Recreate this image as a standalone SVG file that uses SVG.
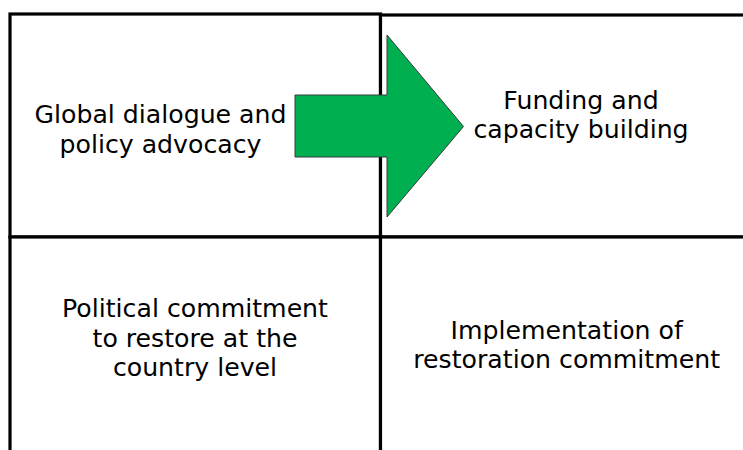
<svg xmlns="http://www.w3.org/2000/svg" width="743" height="450" viewBox="0 0 743 450">
<style>
.box{fill:#ffffff;stroke:#000000;stroke-width:3.2}
.lbl{font-family:"DejaVu Sans","Verdana",sans-serif;font-size:25.2px;fill:#000000;text-anchor:middle}
.arrow{fill:#00b050;stroke:#3a3a3a;stroke-width:1}
</style>
<rect x="0" y="0" width="743" height="450" fill="#ffffff"/>
<g id="node-global">
<rect class="box" x="10" y="14" width="370.5" height="223"/>
<text class="lbl" x="160.5" y="123.3">Global dialogue and</text>
<text class="lbl" x="160.5" y="153">policy advocacy</text>
</g>
<g id="node-funding">
<rect class="box" x="380.5" y="15" width="380" height="222"/>
<text class="lbl" x="581" y="109.3">Funding and</text>
<text class="lbl" x="581" y="138.3">capacity building</text>
</g>
<g id="node-political">
<rect class="box" x="10" y="237" width="370.5" height="240"/>
<text class="lbl" x="195" y="316.7">Political commitment</text>
<text class="lbl" x="195" y="346.5">to restore at the</text>
<text class="lbl" x="195" y="376">country level</text>
</g>
<g id="node-implementation">
<rect class="box" x="380.5" y="237" width="380" height="240"/>
<text class="lbl" x="566.7" y="339.3">Implementation of</text>
<text class="lbl" x="566.7" y="368.3">restoration commitment</text>
</g>
<g id="connectors">
<polygon class="arrow" points="295,95 387,95 387,35 463.5,126.5 387,217 387,157 295,157"/>
</g>
</svg>
